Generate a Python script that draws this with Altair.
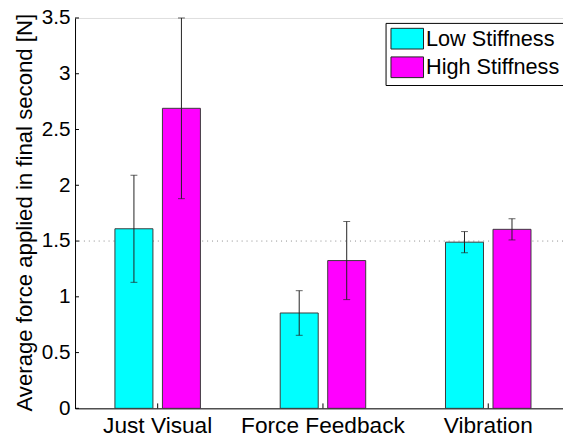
import altair as alt
import pandas as pd

# ---- data ----
categories = ["Just Visual", "Force Feedback", "Vibration"]
series = ["Low Stiffness", "High Stiffness"]
low_values = [1.61, 0.855, 1.49]
low_errors = [0.48, 0.20, 0.095]
high_values = [2.69, 1.325, 1.605]
high_errors = [0.81, 0.35, 0.095]
y_ticks = [0, 0.5, 1, 1.5, 2, 2.5, 3, 3.5]
reference_level = 1.5

rows = []
for c, v, e in zip(categories, low_values, low_errors):
    rows.append({"category": c, "series": series[0], "value": v, "lo": v - e, "hi": v + e})
for c, v, e in zip(categories, high_values, high_errors):
    rows.append({"category": c, "series": series[1], "value": v, "lo": v - e, "hi": v + e})
df = pd.DataFrame(rows)
ticks_df = pd.DataFrame({"t": y_ticks})
cat_df = pd.DataFrame({"category": categories})

FONT = "Liberation Sans"
W, H = 495, 396

x_scale = alt.Scale(domain=categories, range=[0, 503], paddingInner=0, paddingOuter=0)
y_scale = alt.Scale(domain=[0, 3.5], nice=False, zero=True)
off_scale = alt.Scale(domain=series, paddingInner=0.2, paddingOuter=0.84)

x_enc = alt.X("category:N", scale=x_scale, sort=categories,
              axis=alt.Axis(title=None, labelAngle=0, ticks=False, labelPadding=6,
                            labelFontSize=23, labelFont=FONT, labelColor="black",
                            domainColor="black", domainWidth=1, grid=False))
y_enc = alt.Y("value:Q", scale=y_scale,
              axis=alt.Axis(title="Average force applied in final second [N]",
                            values=y_ticks, format="~g", ticks=False, grid=False,
                            labelPadding=5, labelFontSize=21, labelFont=FONT,
                            labelColor="black", domainColor="black", domainWidth=1,
                            titleFontSize=22.5, titleFont=FONT, titleFontWeight="normal",
                            titleColor="black", titleX=-44, titleY=197, titleAngle=270,
                            titleBaseline="alphabetic", titleAlign="center"))

base = alt.Chart(df)

ref_line = alt.Chart(pd.DataFrame({"y": [reference_level]})).mark_rule(
    color="#8a8a8a", strokeDash=[1, 4], strokeWidth=1
).encode(y=alt.Y("y:Q", scale=y_scale))

bars = base.mark_bar(stroke="#3a3a3a", strokeWidth=1, opacity=1).encode(
    x=x_enc,
    xOffset=alt.XOffset("series:N", scale=off_scale, sort=series),
    y=y_enc,
    color=alt.Color("series:N", scale=alt.Scale(domain=series, range=["#00ffff", "#ff00ff"]),
                    legend=alt.Legend(title=None, orient="none", legendX=315, legendY=5,
                                      fillColor="white", strokeColor="black", padding=5,
                                      symbolType="M-1,-1H2.143V1H-1Z", symbolSize=441,
                                      symbolStrokeColor="#222", symbolStrokeWidth=1,
                                      symbolOpacity=1,
                                      labelFontSize=22, labelFont=FONT, labelColor="black",
                                      labelOffset=14, rowPadding=3, labelLimit=300)),
)

err = base.mark_rule(color="#222", strokeWidth=1).encode(
    x=alt.X("category:N", scale=x_scale, sort=categories),
    xOffset=alt.XOffset("series:N", scale=off_scale, sort=series),
    y=alt.Y("lo:Q", scale=y_scale),
    y2="hi:Q",
)
cap_hi = base.mark_tick(color="#222", size=7, thickness=1).encode(
    x=alt.X("category:N", scale=x_scale, sort=categories),
    xOffset=alt.XOffset("series:N", scale=off_scale, sort=series),
    y=alt.Y("hi:Q", scale=y_scale),
)
cap_lo = base.mark_tick(color="#222", size=7, thickness=1).encode(
    x=alt.X("category:N", scale=x_scale, sort=categories),
    xOffset=alt.XOffset("series:N", scale=off_scale, sort=series),
    y=alt.Y("lo:Q", scale=y_scale),
)

# inward axis ticks (MATLAB style)
y_tick_marks = alt.Chart(ticks_df).mark_rule(color="black", strokeWidth=1).encode(
    y=alt.Y("t:Q", scale=y_scale), x=alt.value(0), x2=alt.value(4)
)
x_tick_marks = alt.Chart(cat_df).mark_rule(color="black", strokeWidth=1).encode(
    x=alt.X("category:N", scale=x_scale, sort=categories),
    y=alt.value(H), y2=alt.value(H - 5)
)

chart = alt.layer(ref_line, bars, err, cap_hi, cap_lo, y_tick_marks, x_tick_marks).properties(
    width=W, height=H,
    autosize=alt.AutoSizeParams(type="none"),
    padding={"left": 68, "top": 7, "right": 0, "bottom": 30},
    background="white",
).configure_view(stroke=None).configure(font=FONT)

chart.save("out.html", embed_options={"renderer": "svg", "actions": False})
